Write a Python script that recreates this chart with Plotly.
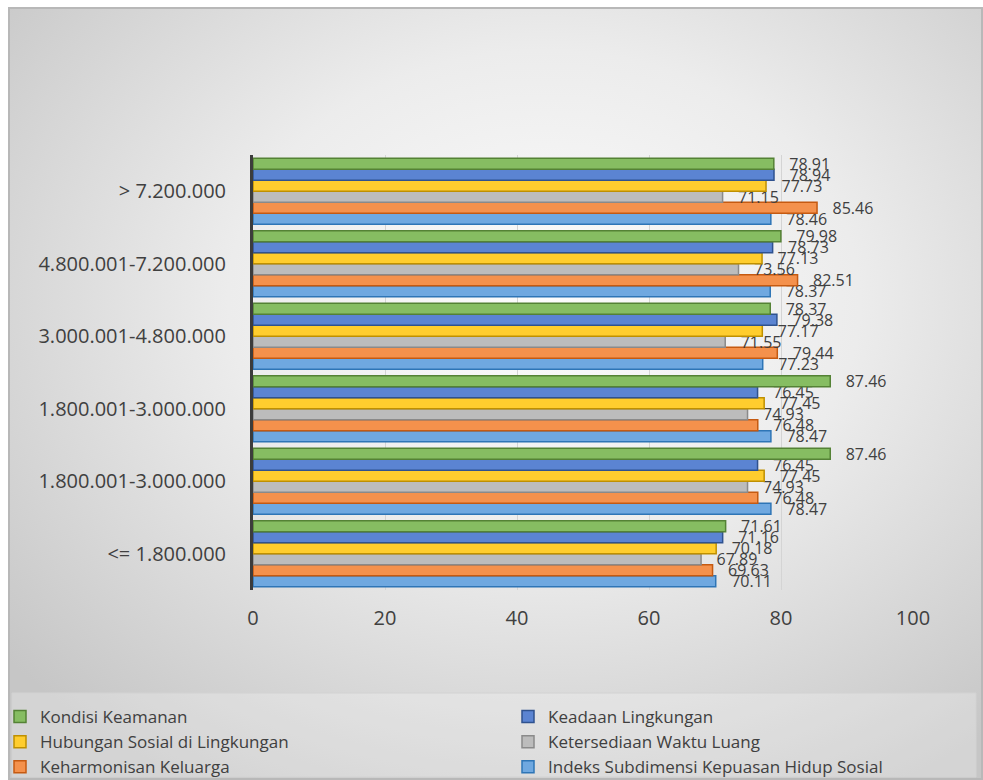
import base64
import plotly.graph_objects as go

# income groups, bottom to top (the 1.800.001-3.000.000 group appears twice in the source)
kelompok = ["<= 1.800.000", "1.800.001-3.000.000", "1.800.001-3.000.000",
            "3.000.001-4.800.000", "4.800.001-7.200.000", "> 7.200.000"]
posisi = [0, 1, 2, 3, 4, 5]

indeks = [70.11, 78.47, 78.47, 77.23, 78.37, 78.46]
keharmonisan = [69.63, 76.48, 76.48, 79.44, 82.51, 85.46]
ketersediaan = [67.89, 74.93, 74.93, 71.55, 73.56, 71.15]
hubungan = [70.18, 77.45, 77.45, 77.17, 77.13, 77.73]
keadaan = [71.16, 76.45, 76.45, 79.38, 78.73, 78.94]
kondisi = [71.61, 87.46, 87.46, 78.37, 79.98, 78.91]

x_ticks = [0, 20, 40, 60, 80, 100]

# (name, values, fill, outline, legend)
series = [
    ("Indeks Subdimensi Kepuasan Hidup Sosial", indeks, "#6fa8e0", "#2e75b6", "legend2"),
    ("Keharmonisan Keluarga", keharmonisan, "#f4914c", "#c55a11", "legend"),
    ("Ketersediaan Waktu Luang", ketersediaan, "#bcbcbc", "#8a8a8a", "legend2"),
    ("Hubungan Sosial di Lingkungan", hubungan, "#ffcd2e", "#bf9000", "legend"),
    ("Keadaan Lingkungan", keadaan, "#5b84d2", "#2f528f", "legend2"),
    ("Kondisi Keamanan", kondisi, "#86bd62", "#548235", "legend"),
]

FONT = "Open Sans"
W, H = 983, 780
L, R, T, B = 253, 70, 155, 190
PW, PH = W - L - R, H - T - B


def px_x(p):
    return (p - L) / PW


def px_y(q):
    return (H - B - q) / PH


fig = go.Figure()
for name, vals, fill, edge, leg in series:
    fig.add_trace(go.Bar(
        y=posisi, x=vals, name=name, orientation="h",
        marker=dict(color=fill, line=dict(color=edge, width=1.5)),
        text=vals, texttemplate="\u00a0\u00a0\u00a0%{x:.2f}",
        textposition="outside", constraintext="none", cliponaxis=False,
        textfont=dict(family=FONT, size=16, color="#404040"),
        legend=leg,
    ))

# soft radial grey background like the original chart style
svg = ('<svg xmlns="http://www.w3.org/2000/svg" width="975" height="773">'
       '<defs><radialGradient id="g" cx="55%" cy="38%" r="72%">'
       '<stop offset="0" stop-color="#fcfcfc"/><stop offset="0.45" stop-color="#ececec"/>'
       '<stop offset="1" stop-color="#c6c6c6"/></radialGradient></defs>'
       '<rect width="975" height="773" fill="url(#g)"/>'
       '<rect x="1" y="1" width="973" height="771" fill="none" stroke="#b8b8b8" stroke-width="2"/></svg>')
bg = "data:image/svg+xml;base64," + base64.b64encode(svg.encode()).decode()

legend_font = dict(family=FONT, size=17, color="#404040")

fig.update_layout(
    width=W, height=H,
    margin=dict(l=L, r=R, t=T, b=B, autoexpand=False),
    paper_bgcolor="white",
    plot_bgcolor="rgba(0,0,0,0)",
    barmode="group", bargap=0.09, bargroupgap=0,
    font=dict(family=FONT, color="#404040"),
    images=[dict(source=bg, xref="paper", yref="paper",
                 x=px_x(8), y=px_y(7), sizex=(W - 8) / PW, sizey=(H - 7) / PH,
                 xanchor="left", yanchor="top", sizing="stretch", layer="below")],
    shapes=[dict(type="rect", xref="paper", yref="paper",
                 x0=px_x(12), x1=px_x(976), y0=px_y(777), y1=px_y(693),
                 fillcolor="rgba(255,255,255,0.25)", line=dict(color="#d2d2d2", width=1),
                 layer="below")],
    legend=dict(orientation="v", traceorder="reversed",
                x=px_x(0), y=px_y(699), xanchor="left", yanchor="top",
                bgcolor="rgba(0,0,0,0)", font=legend_font),
    legend2=dict(orientation="v", traceorder="reversed",
                 x=px_x(508), y=px_y(699), xanchor="left", yanchor="top",
                 bgcolor="rgba(0,0,0,0)", font=legend_font),
    xaxis=dict(range=[0, 100], tickvals=x_ticks, showgrid=True, gridcolor="#d4d4d4",
               gridwidth=1, zeroline=False, showline=False,
               tickfont=dict(family=FONT, size=20, color="#404040"), ticklabelstandoff=14),
    yaxis=dict(range=[-0.5, 5.5], tickvals=posisi, ticktext=kelompok, showgrid=False,
               zeroline=False, showline=True, linecolor="#3c3c3c", linewidth=3,
               tickfont=dict(family=FONT, size=20, color="#404040"), ticklabelstandoff=20),
)

# drop the default page margin so the figure sits at the window's top-left corner
fig.write_html("out.html", config={"displayModeBar": False},
               post_script="document.body.style.margin='0';")
